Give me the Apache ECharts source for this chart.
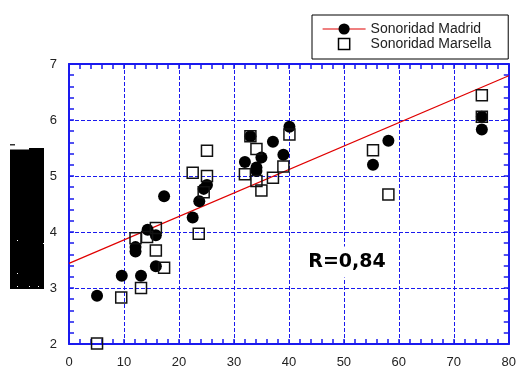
<!DOCTYPE html>
<html>
<head>
<meta charset="utf-8">
<script src="https://cdn.jsdelivr.net/npm/echarts@6/dist/echarts.min.js"></script>
<style>
html,body{margin:0;padding:0;background:#fff;}
#chart{width:519px;height:369px;}
</style>
</head>
<body>
<div id="chart"></div>
<script>
// Data
const madX = [5.1, 9.6, 13.1, 12.1, 12.1, 15.8, 14.3, 15.8, 17.3, 22.5, 23.7, 24.5, 25.1, 32.0, 33.0, 34.1, 34.1, 35.0, 37.1, 39.0, 40.1, 55.3, 58.1, 75.1, 75.1];
const madY = [2.86, 3.22, 3.22, 3.73, 3.65, 3.39, 4.04, 3.94, 4.64, 4.26, 4.55, 4.77, 4.84, 5.25, 5.71, 5.15, 5.09, 5.33, 5.61, 5.38, 5.88, 5.20, 5.63, 6.06, 5.83];
const marX = [5.1, 9.5, 13.1, 12.1, 14.2, 15.8, 15.8, 17.3, 23.6, 22.5, 24.5, 25.1, 25.1, 32.0, 33.0, 34.1, 34.1, 35.0, 37.1, 39.0, 40.1, 55.3, 58.1, 75.1, 75.1];
const marY = [2.01, 2.83, 3.00, 3.89, 3.91, 4.07, 3.67, 3.36, 3.97, 5.06, 4.71, 5.00, 5.45, 5.03, 5.71, 5.48, 4.91, 4.74, 4.97, 5.17, 5.74, 5.46, 4.67, 6.44, 6.06];
const regX = [0, 80];
const regY = [3.44, 6.79];
const seriesNames = ['Sonoridad Madrid', 'Sonoridad Marsella'];
const annotation = 'R=0,84';

const zip = (a, b) => a.map((v, i) => [v, b[i]]);
const BLUE = '#1a1aee';
const font = 'Liberation Sans, Arial, sans-serif';

function axis(pos, showLabel, extra) {
  return Object.assign({
    type: 'value',
    position: pos,
    axisLine: { show: true, onZero: false, lineStyle: { color: BLUE, width: 2 } },
    axisTick: { show: true, inside: true, length: 5, lineStyle: { color: BLUE, width: 1.5 } },
    minorTick: { show: true, splitNumber: 5, length: 5, lineStyle: { color: BLUE, width: 1.5 } },
    axisLabel: { show: showLabel, color: '#222', fontSize: 13, fontFamily: font, margin: 12 },
    splitLine: { show: false }
  }, extra);
}

const xBase = { min: 0, max: 80, interval: 10 };
const yBase = { min: 2, max: 7, interval: 1 };
const grid = { left: 69, right: 5, top: 64, bottom: 23 };
const dashed = { show: true, lineStyle: { color: BLUE, width: 1, type: [4, 2] } };

const chart = echarts.init(document.getElementById('chart'), null, { renderer: 'canvas' });
chart.setOption({
  animation: false,
  backgroundColor: '#fff',
  grid: grid,
  xAxis: [
    axis('bottom', true, Object.assign({ splitLine: dashed }, xBase)),
    axis('top', false, Object.assign({}, xBase))
  ],
  yAxis: [
    axis('left', true, Object.assign({ splitLine: dashed }, yBase)),
    axis('right', false, Object.assign({}, yBase))
  ],
  legend: {
    orient: 'vertical',
    left: 312,
    top: 15,
    padding: [7, 17, 8, 10],
    itemGap: 1,
    itemWidth: 43,
    itemHeight: 14,
    borderColor: '#000',
    borderWidth: 1,
    backgroundColor: '#fff',
    textStyle: { fontSize: 14, fontFamily: font, color: '#222' },
    data: [
      { name: seriesNames[0], lineStyle: { color: '#e00000', width: 1.2, opacity: 1 }, itemStyle: { color: '#000' } },
      { name: seriesNames[1], lineStyle: { opacity: 0 }, itemStyle: { color: 'transparent', borderColor: '#000', borderWidth: 1.5 } }
    ]
  },
  series: [
    {
      name: 'regression',
      type: 'line',
      data: zip(regX, regY),
      showSymbol: false,
      symbol: 'none',
      lineStyle: { color: '#e00000', width: 1.2 },
      z: 2,
      silent: true
    },
    {
      name: seriesNames[0],
      type: 'line',
      data: zip(madX, madY),
      symbol: 'circle',
      symbolSize: 12,
      showSymbol: true,
      showAllSymbol: true,
      lineStyle: { opacity: 0, width: 0 },
      itemStyle: { color: '#000' },
      z: 3
    },
    {
      name: seriesNames[1],
      type: 'line',
      data: zip(marX, marY),
      symbol: 'rect',
      symbolSize: 11,
      showSymbol: true,
      showAllSymbol: true,
      lineStyle: { opacity: 0, width: 0 },
      itemStyle: { color: 'transparent', borderColor: '#111', borderWidth: 1.5 },
      z: 4
    }
  ],
  graphic: [
    { type: 'rect', shape: { x: 10, y: 149.5, width: 19, height: 139.5 }, style: { fill: '#000' } },
    { type: 'rect', shape: { x: 29, y: 148, width: 15, height: 141 }, style: { fill: '#000' } },
    { type: 'rect', shape: { x: 10, y: 144, width: 5, height: 1.5 }, style: { fill: '#333' } },
    { type: 'rect', shape: { x: 17, y: 240, width: 1, height: 1 }, style: { fill: '#fff' } },
    { type: 'rect', shape: { x: 17, y: 273, width: 1, height: 1 }, style: { fill: '#fff' } },
    { type: 'rect', shape: { x: 17, y: 286, width: 1, height: 1 }, style: { fill: '#fff' } },
    { type: 'rect', shape: { x: 29, y: 286, width: 1, height: 1 }, style: { fill: '#fff' } },
    { type: 'rect', shape: { x: 38, y: 286, width: 1, height: 1 }, style: { fill: '#fff' } },
    { type: 'rect', shape: { x: 43, y: 243, width: 1, height: 1 }, style: { fill: '#fff' } },
    {
      type: 'text',
      x: 347, y: 262,
      z: 10,
      style: {
        text: annotation,
        font: 'bold 19px "DejaVu Sans", sans-serif',
        fill: '#000',
        align: 'center',
        verticalAlign: 'middle',
        backgroundColor: '#fff',
        padding: [6, 8]
      }
    }
  ]
});
</script>
</body>
</html>
